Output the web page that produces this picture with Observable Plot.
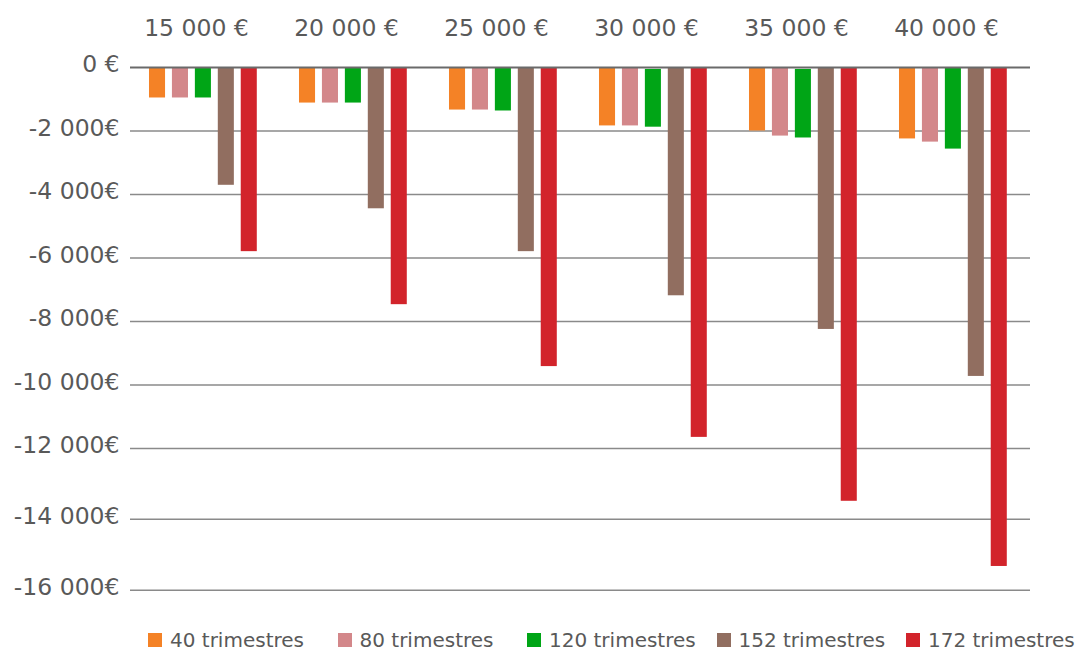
<!DOCTYPE html>
<html>
<head>
<meta charset="utf-8">
<script src="https://cdn.jsdelivr.net/npm/d3@7"></script>
<script src="https://cdn.jsdelivr.net/npm/@observablehq/plot@0.6"></script>
<style>
  html, body { margin: 0; padding: 0; background: #fff; }
  #chart { width: 1078px; }
  #legend { display: flex; align-items: center; height: 40px; padding-left: 148px;
            font-family: "DejaVu Sans", sans-serif; font-size: 20px; color: #595959; white-space: nowrap; }
  #legend .item { display: flex; align-items: center; width: 189.5px; flex: none; }
  #legend .sw { width: 14px; height: 14px; margin-right: 8px; display: inline-block; }
</style>
</head>
<body>
<div id="chart"></div>
<div id="legend"></div>
<script>
// ---- data ----
const groups = ["15 000 €", "20 000 €", "25 000 €", "30 000 €", "35 000 €", "40 000 €"];
const series = ["40 trimestres", "80 trimestres", "120 trimestres", "152 trimestres", "172 trimestres"];
const colors = ["#f48226", "#d3878a", "#00a516", "#916e60", "#d2242b"];

const v40  = [-960, -1120, -1340, -1840, -2000, -2250];
const v80  = [-960, -1120, -1340, -1840, -2160, -2350];
const v120 = [-960, -1120, -1370, -1880, -2220, -2570];
const v152 = [-3710, -4450, -5800, -7190, -8250, -9730];
const v172 = [-5800, -7470, -9420, -11650, -13490, -15330];
const v120Start = [0, 0, 0, -60, -60, 0];

const yTicks = [0, -2000, -4000, -6000, -8000, -10000, -12000, -14000, -16000];
const yTickLabels = ["0 €", "-2 000€", "-4 000€", "-6 000€", "-8 000€", "-10 000€", "-12 000€", "-14 000€", "-16 000€"];

// ---- build table ----
const valuesBySeries = [v40, v80, v120, v152, v172];
const rows = [];
series.forEach((s, si) => {
  groups.forEach((g, gi) => {
    rows.push({
      group: g,
      series: s,
      start: si === 2 ? v120Start[gi] : 0,
      value: valuesBySeries[si][gi]
    });
  });
});

const tickFmt = d => yTickLabels[yTicks.indexOf(d)];
const hasAxisMark = typeof Plot.axisY === "function";

const marks = [
  Plot.ruleY(yTicks.filter(d => d !== 0), { stroke: "#8a8a8a", strokeWidth: 1.5 }),
  Plot.barY(rows, { fx: "group", x: "series", y1: "start", y2: "value", fill: "series" }),
  Plot.ruleY([0], { stroke: "#6a6a6a", strokeWidth: 2 }),
  Plot.text(groups, { fx: d => d, text: d => d, frameAnchor: "top", lineAnchor: "bottom",
                      dy: -32, dx: -9, fontSize: 23.5, fill: "#595959" })
];
if (hasAxisMark) {
  marks.push(Plot.axisY(yTicks, { tickFormat: tickFmt, tickSize: 0, tickPadding: 11, dy: -3,
                                  fontSize: 23.5, fill: "#595959", label: null }));
}

const chart = Plot.plot({
  width: 1078,
  height: 620,
  marginLeft: 129,
  marginRight: 47,
  marginTop: 67,
  marginBottom: 30,
  style: { fontFamily: "DejaVu Sans, sans-serif", fontSize: "23.5px", color: "#595959", background: "white" },
  fx: { domain: groups, padding: 0, axis: null, label: null },
  x: { domain: series, paddingInner: 0.3, paddingOuter: 0.92, align: 0.45, round: false, axis: null },
  y: {
    type: "linear",
    domain: [0, -12000, -16000],
    range: [67, 448, 589.7],
    ticks: yTicks,
    tickFormat: tickFmt,
    tickSize: 0,
    tickPadding: 11,
    label: null,
    axis: hasAxisMark ? null : "left"
  },
  color: { domain: series, range: colors },
  marks
});
document.getElementById("chart").appendChild(chart);

// ---- legend ----
const legend = document.getElementById("legend");
series.forEach((s, i) => {
  const item = document.createElement("span");
  item.className = "item";
  const sw = document.createElement("span");
  sw.className = "sw";
  sw.style.background = colors[i];
  const t = document.createElement("span");
  t.textContent = s;
  item.appendChild(sw);
  item.appendChild(t);
  legend.appendChild(item);
});
</script>
</body>
</html>
